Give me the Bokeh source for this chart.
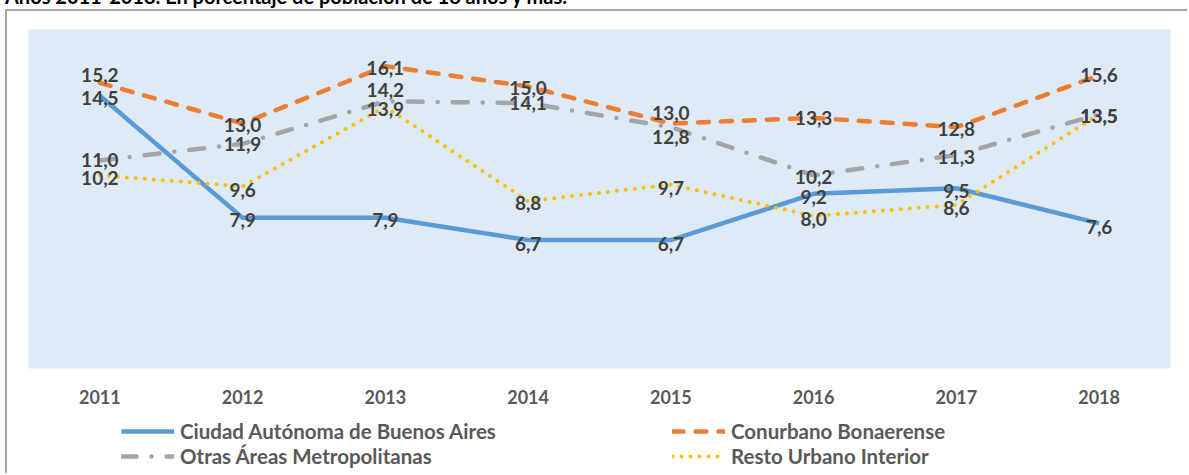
from bokeh.plotting import figure
from bokeh.models import Legend, LegendItem, Range1d, ColumnDataSource, Div
from bokeh.layouts import column
from bokeh.core.properties import value
from bokeh.embed import file_html
from bokeh.resources import INLINE

title = "Años 2011-2018. En porcentaje de población de 18 años y más."
years = ["2011", "2012", "2013", "2014", "2015", "2016", "2017", "2018"]
ciudad = [14.5, 7.9, 7.9, 6.7, 6.7, 9.2, 9.5, 7.6]
conurbano = [15.2, 13.0, 16.1, 15.0, 13.0, 13.3, 12.8, 15.6]
otras = [11.0, 11.9, 14.2, 14.1, 12.8, 10.2, 11.3, 13.5]
resto = [10.2, 9.6, 13.9, 8.8, 9.7, 8.0, 8.6, 13.5]
names = ["Ciudad Autónoma de Buenos Aires", "Conurbano Bonaerense",
         "Otras Áreas Metropolitanas", "Resto Urbano Interior"]

# label vertical nudges (screen px, positive = down), per series
label_dy = [
    [2, 2, 2, 4, 4, 3, 3, 4],
    [-8, 2, 2, 2, -10, 0, 2, 0],
    [0, 0, -11, 0, 10, 2, 2, 2],
    [3, 4, 2, 2, 3, 3, 3, 2],
]

series = [ciudad, conurbano, otras, resto]
colors = ["#5B9BD5", "#ED7D31", "#A5A5A5", "#FFC000"]
widths = [4.5, 4.5, 4.5, 4]
dashes = ["solid", "11 12", "15 15 0 15", "0 9"]
caps = ["butt", "round", "round", "round"]
border = "2px solid #A6A6A6"

p = figure(width=1182, height=401, x_range=years, y_range=Range1d(-0.243, 18.08),
           output_backend="svg", toolbar_location=None, y_axis_location=None,
           min_border_left=21, min_border_right=19, min_border_top=18, min_border_bottom=44)
p.background_fill_color = "#DEEAF6"
p.border_fill_color = "white"
p.outline_line_color = None
p.xgrid.grid_line_color = None
p.ygrid.grid_line_color = None
p.styles = {"margin-left": "5px", "border-top": border, "border-left": border}

p.xaxis.axis_line_color = None
p.xaxis.major_tick_line_color = None
p.xaxis.minor_tick_line_color = None
p.xaxis.major_tick_out = 0
p.xaxis.major_tick_in = 0
p.xaxis.major_label_standoff = 21
p.xaxis.major_label_text_font = "Lato"
p.xaxis.major_label_text_font_style = "bold"
p.xaxis.major_label_text_font_size = "18px"
p.xaxis.major_label_text_color = "#595959"

for s, c, w, d, cap in zip(series, colors, widths, dashes, caps):
    p.line(x=years, y=s, line_color=c, line_width=w, line_dash=d, line_cap=cap,
           line_join="round")

for s, dy in zip(series, label_dy):
    src = ColumnDataSource(dict(x=years, y=s, t=[f"{v:.1f}".replace(".", ",") for v in s], dy=dy))
    p.text(x="x", y="y", text="t", y_offset="dy", source=src, text_align="center",
           text_baseline="middle", text_font=value("Lato"), text_font_style="bold",
           text_font_size="19px", text_color="#404040")

# legend strip (keys only, no visible data)
lg = figure(width=1182, height=63, x_range=Range1d(0, 1), y_range=Range1d(0, 1),
            output_backend="svg", toolbar_location=None, x_axis_location=None,
            y_axis_location=None, min_border=0)
lg.outline_line_color = None
lg.xgrid.grid_line_color = None
lg.ygrid.grid_line_color = None
lg.styles = {"margin-left": "5px", "border-left": border}

nan = float("nan")
keys = []
for c, w, d, cap in zip(colors, widths, dashes, caps):
    keys.append(lg.line(x=[nan], y=[nan], line_color=c, line_width=w, line_dash=d,
                        line_cap=cap))

def make_legend(idx, loc):
    leg = Legend(items=[LegendItem(label=names[i], renderers=[keys[i]]) for i in idx],
                 location=loc, orientation="vertical",
                 background_fill_alpha=0, border_line_color=None,
                 padding=0, margin=0, spacing=1, glyph_width=53, glyph_height=20,
                 label_height=20, label_standoff=6, label_text_font="Lato",
                 label_text_font_style="bold", label_text_font_size="20.5px",
                 label_text_color="#595959")
    lg.add_layout(leg, "center")

make_legend([0, 2], (93, 5))
make_legend([1, 3], (644, 5))

head = Div(text=title, height=18, styles={"margin-top": "-14px", "font-family": "Lato",
                                          "font-weight": "bold", "font-size": "20px",
                                          "line-height": "20px", "color": "#000000",
                                          "white-space": "nowrap", "overflow": "visible"})

layout = column(head, p, lg, spacing=0)
open("out.html", "w").write(file_html(layout, INLINE))
